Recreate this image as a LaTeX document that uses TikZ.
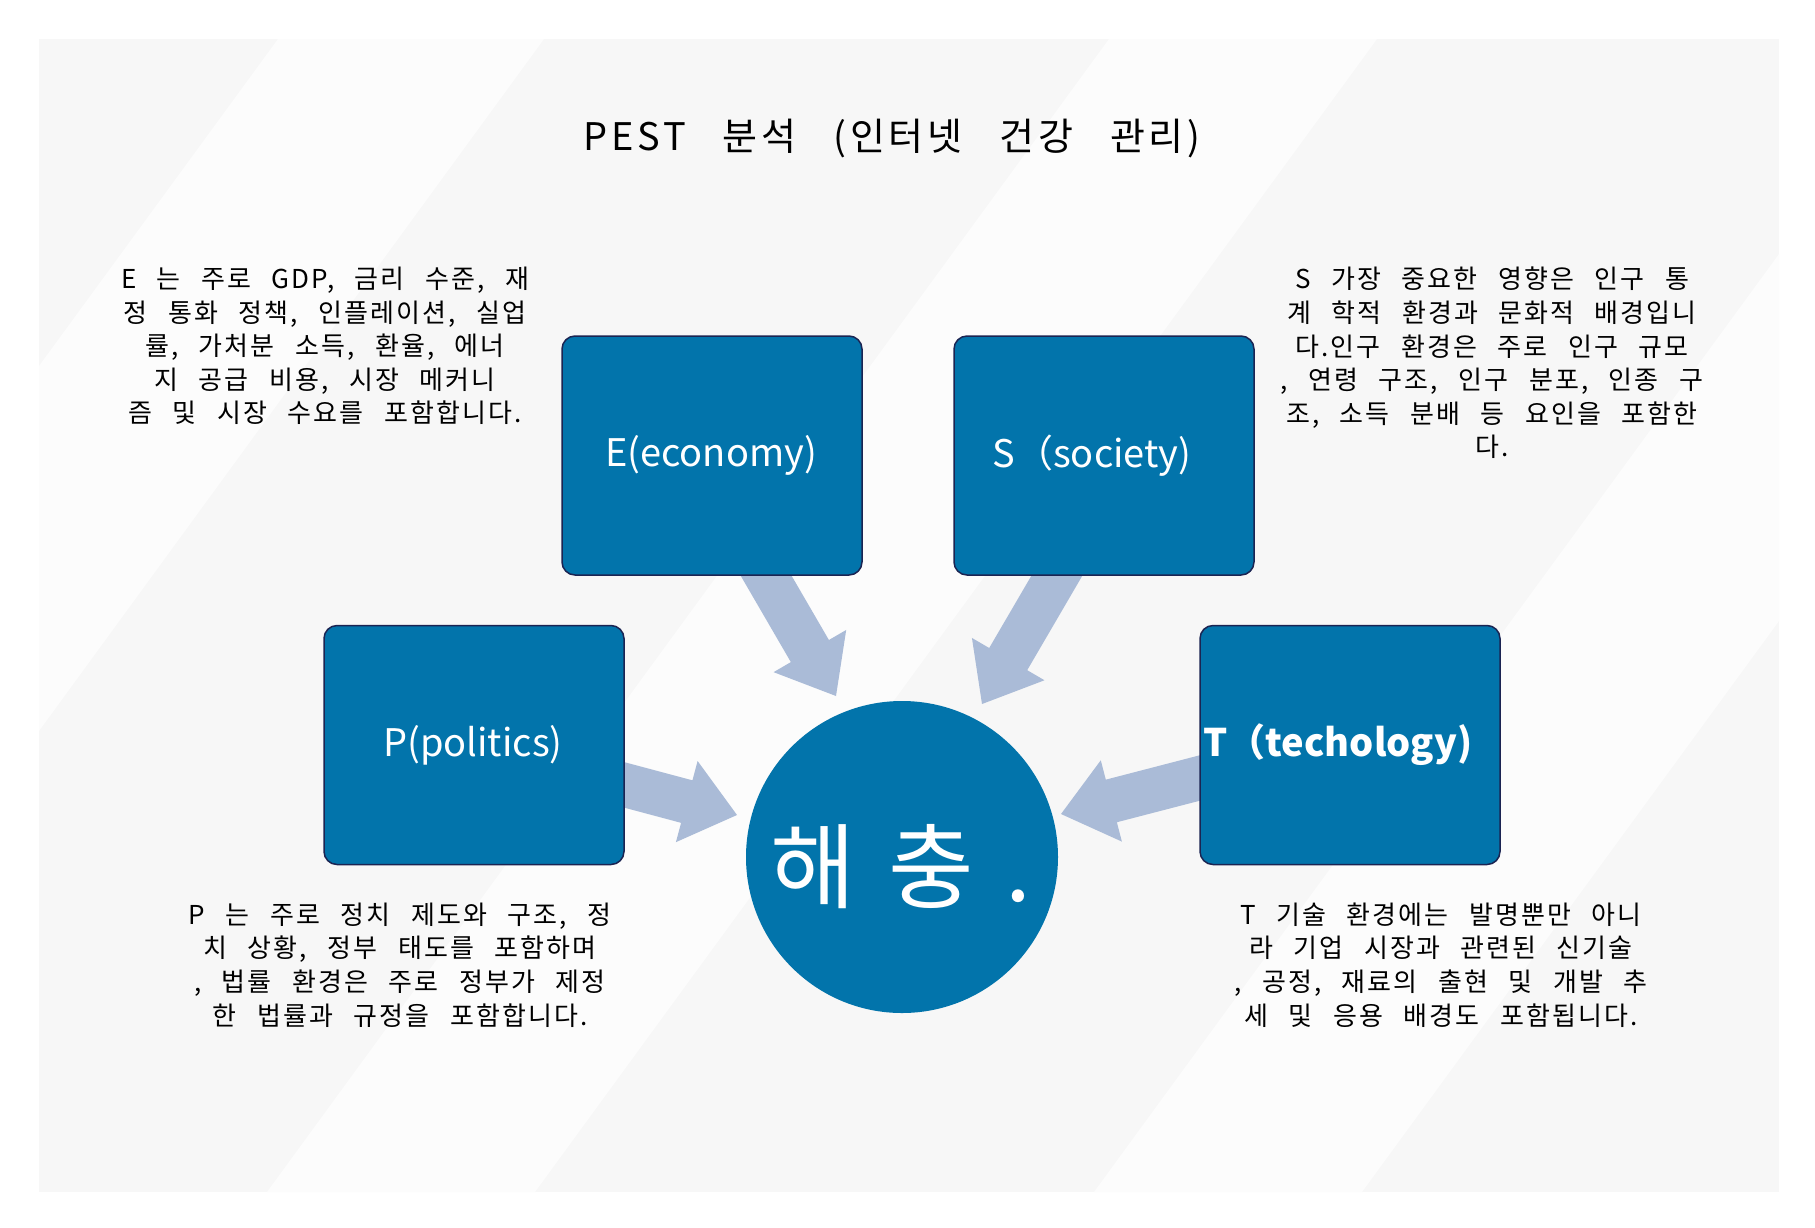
\documentclass[tikz,border=0pt]{standalone}
\usepackage{fontspec}
\usetikzlibrary{calc}
\newfontfamily\krbody{Noto Sans CJK KR}[LetterSpace=8,WordSpace=2.6]
\newfontfamily\krtitle{Noto Sans CJK KR}[LetterSpace=10,WordSpace=3]
\newfontfamily\krplain{Noto Sans CJK KR}
\definecolor{bgc}{HTML}{F7F7F7}
\definecolor{stripec}{HTML}{FCFCFC}
\definecolor{boxblue}{HTML}{0274AB}
\definecolor{boxline}{HTML}{1B2452}
\definecolor{arrowc}{HTML}{AABBD7}
\pgfdeclarelayer{bglayer}
\pgfsetlayers{bglayer,main}
\tikzset{
  pestbox/.style={draw=boxline, line width=1.5pt, fill=boxblue, rounded corners=13pt,
    minimum width=300pt, minimum height=239pt, text=white, inner sep=0pt,
    font=\krplain\fontsize{38}{44}\selectfont},
  boxlabel/.style={text=white, inner sep=0pt, font=\krplain\fontsize{38}{44}\selectfont},
  desc/.style={align=center, text=black, inner sep=0pt,
    font=\krbody\fontsize{26}{33.6}\selectfont},
  arrowfill/.style={fill=arrowc},
}
\newcommand\blockarrow[2]{%
  \coordinate (ba-h) at ($(#2)!52pt!(#1)$);
  \fill[arrowfill] ($(#1)!22pt!90:(#2)$) -- ($(ba-h)!22pt!-90:(#1)$) -- ($(ba-h)!42pt!-90:(#1)$)
    -- (#2) -- ($(ba-h)!42pt!90:(#1)$) -- ($(ba-h)!22pt!90:(#1)$) -- ($(#1)!22pt!-90:(#2)$) -- cycle;
}
\begin{document}
\begin{tikzpicture}[x=1pt,y=-1pt]
\useasboundingbox (0,0) rectangle (1815,1227);
\begin{pgfonlayer}{bglayer}
  \fill[white] (0,0) rectangle (1815,1227);
  \fill[bgc] (39,39) rectangle (1779,1192);
  \fill[stripec] (278,39) -- (544,39) -- (39,731) -- (39,366) -- cycle;
  \fill[stripec] (1109,39) -- (1377,39) -- (535,1192) -- (267,1192) -- cycle;
  \fill[stripec] (1779,254) -- (1779,621) -- (1362,1192) -- (1094,1192) -- cycle;
\end{pgfonlayer}

\node[font=\krtitle\fontsize{38}{44}\selectfont] (title) at (892,139) {PEST 분석 (인터넷 건강 관리)};

\node[pestbox] (E) at (712,455.5) {};
\node[boxlabel] (Elab) at (711,455.5) {E(economy)};
\node[pestbox] (S) at (1104,455.5) {};
\node[boxlabel] (Slab) at (1092,455.5) {S（society)};
\node[pestbox] (P) at (474,745) {};
\node[boxlabel] (Plab) at (473,745) {P(politics)};
\node[pestbox] (T) at (1350,745) {};
\node[boxlabel, font=\krplain\bfseries\fontsize{38}{44}\selectfont] (Tlab) at (1338,745) {T（techology)};

\node[circle, fill=boxblue, minimum size=312pt, inner sep=0pt] (C) at (902,857) {};
\node[text=white, font=\krplain\fontsize{93}{93}\selectfont, anchor=base] (Ctxt) at (901,901) {해\hspace{32pt}충\hspace{32pt}.};

\node[desc] (Etxt) at (325,346) {E 는 주로 GDP, 금리 수준, 재\\정 통화 정책, 인플레이션, 실업\\률, 가처분 소득, 환율, 에너\\지 공급 비용, 시장 메커니\\즘 및 시장 수요를 포함합니다.};
\node[desc] (Stxt) at (1492,363) {S 가장 중요한 영향은 인구 통\\계 학적 환경과 문화적 배경입니\\다.인구 환경은 주로 인구 규모\\, 연령 구조, 인구 분포, 인종 구\\조, 소득 분배 등 요인을 포함한\\다.};
\node[desc] (Ptxt) at (400,965) {P 는 주로 정치 제도와 구조, 정\\치 상황, 정부 태도를 포함하며\\, 법률 환경은 주로 정부가 제정\\한 법률과 규정을 포함합니다.};
\node[desc] (Ttxt) at (1441,965) {T 기술 환경에는 발명뿐만 아니\\라 기업 시장과 관련된 신기술\\, 공정, 재료의 출현 및 개발 추\\세 및 응용 배경도 포함됩니다.};

\coordinate (eA) at ($(E.south)+(46,-14)$);
\coordinate (eB) at ($(C.center)+(-66,-161)$);
\coordinate (sA) at ($(S.south)+(-39,-14)$);
\coordinate (sB) at ($(C.center)+(80,-153)$);
\coordinate (pA) at ($(P.east)+(-15,36)$);
\coordinate (pB) at ($(C.center)+(-165,-42)$);
\coordinate (tA) at ($(T.west)+(12,30)$);
\coordinate (tB) at ($(C.center)+(159,-43)$);
\begin{pgfonlayer}{bglayer}
  \blockarrow{eA}{eB}
  \blockarrow{sA}{sB}
  \blockarrow{pA}{pB}
  \blockarrow{tA}{tB}
\end{pgfonlayer}
\end{tikzpicture}
\end{document}
